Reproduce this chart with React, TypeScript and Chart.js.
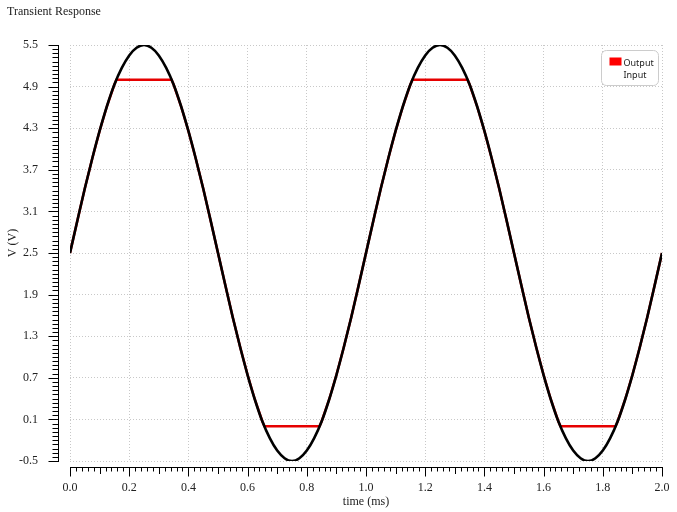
import { useEffect, useRef } from 'react'
import { Chart, registerables } from 'chart.js'
Chart.register(...registerables)

const TITLE = 'Transient Response'
const X_TITLE = 'time (ms)'
const Y_TITLE = 'V (V)'

const xTicks = [0, 0.2, 0.4, 0.6, 0.8, 1.0, 1.2, 1.4, 1.6, 1.8, 2.0]
const yTicks = [-0.5, 0.1, 0.7, 1.3, 1.9, 2.5, 3.1, 3.7, 4.3, 4.9, 5.5]

const inputTime = [
  0, 0.025, 0.05, 0.075, 0.1, 0.125, 0.15, 0.175, 0.2, 0.225,
  0.25, 0.275, 0.3, 0.325, 0.35, 0.375, 0.4, 0.425, 0.45, 0.475,
  0.5, 0.525, 0.55, 0.575, 0.6, 0.625, 0.65, 0.675, 0.7, 0.725,
  0.75, 0.775, 0.8, 0.825, 0.85, 0.875, 0.9, 0.925, 0.95, 0.975,
  1.0, 1.025, 1.05, 1.075, 1.1, 1.125, 1.15, 1.175, 1.2, 1.225,
  1.25, 1.275, 1.3, 1.325, 1.35, 1.375, 1.4, 1.425, 1.45, 1.475,
  1.5, 1.525, 1.55, 1.575, 1.6, 1.625, 1.65, 1.675, 1.7, 1.725,
  1.75, 1.775, 1.8, 1.825, 1.85, 1.875, 1.9, 1.925, 1.95, 1.975, 2.0,
]
const inputV = [
  2.5, 2.97, 3.43, 3.86, 4.26, 4.62, 4.93, 5.17, 5.35, 5.46,
  5.5, 5.46, 5.35, 5.17, 4.93, 4.62, 4.26, 3.86, 3.43, 2.97,
  2.5, 2.03, 1.57, 1.14, 0.74, 0.38, 0.07, -0.17, -0.35, -0.46,
  -0.5, -0.46, -0.35, -0.17, 0.07, 0.38, 0.74, 1.14, 1.57, 2.03,
  2.5, 2.97, 3.43, 3.86, 4.26, 4.62, 4.93, 5.17, 5.35, 5.46,
  5.5, 5.46, 5.35, 5.17, 4.93, 4.62, 4.26, 3.86, 3.43, 2.97,
  2.5, 2.03, 1.57, 1.14, 0.74, 0.38, 0.07, -0.17, -0.35, -0.46,
  -0.5, -0.46, -0.35, -0.17, 0.07, 0.38, 0.74, 1.14, 1.57, 2.03, 2.5,
]

const outputTime = [
  0, 0.025, 0.05, 0.075, 0.1, 0.125, 0.15, 0.157, 0.343, 0.35,
  0.375, 0.4, 0.425, 0.45, 0.475, 0.5, 0.525, 0.55, 0.575, 0.6,
  0.625, 0.65, 0.657, 0.843, 0.85, 0.875, 0.9, 0.925, 0.95, 0.975,
  1.0, 1.025, 1.05, 1.075, 1.1, 1.125, 1.15, 1.157, 1.343, 1.35,
  1.375, 1.4, 1.425, 1.45, 1.475, 1.5, 1.525, 1.55, 1.575, 1.6,
  1.625, 1.65, 1.657, 1.843, 1.85, 1.875, 1.9, 1.925, 1.95, 1.975, 2.0,
]
const outputV = [
  2.5, 2.97, 3.43, 3.86, 4.26, 4.62, 4.93, 5.0, 5.0, 4.93,
  4.62, 4.26, 3.86, 3.43, 2.97, 2.5, 2.03, 1.57, 1.14, 0.74,
  0.38, 0.07, 0.0, 0.0, 0.07, 0.38, 0.74, 1.14, 1.57, 2.03,
  2.5, 2.97, 3.43, 3.86, 4.26, 4.62, 4.93, 5.0, 5.0, 4.93,
  4.62, 4.26, 3.86, 3.43, 2.97, 2.5, 2.03, 1.57, 1.14, 0.74,
  0.38, 0.07, 0.0, 0.0, 0.07, 0.38, 0.74, 1.14, 1.57, 2.03, 2.5,
]

const SERIF = "'Liberation Serif', 'Times New Roman', serif"
const TEXT = '#222'

// detached axes with minor ticks, titles and boxed legend
const decorPlugin = {
  id: 'decor',
  afterDraw(chart: Chart) {
    const { ctx, chartArea: a, scales } = chart
    const xs = scales.x, ys = scales.y
    ctx.save()
    ctx.strokeStyle = '#000'
    ctx.lineWidth = 1

    // y axis
    const ax = Math.round(a.left - 12) + 0.5
    ctx.beginPath()
    ctx.moveTo(ax, ys.getPixelForValue(5.5))
    ctx.lineTo(ax, ys.getPixelForValue(-0.5) + 1)
    for (let i = 0; i <= 100; i++) {
      const v = -0.5 + i * 0.06
      const py = Math.round(ys.getPixelForValue(v)) + 0.5
      const len = i % 10 === 0 ? 10 : 6
      ctx.moveTo(ax - len, py)
      ctx.lineTo(ax, py)
    }
    ctx.stroke()

    // x axis
    const ay = Math.round(a.bottom + 6) + 0.5
    ctx.beginPath()
    ctx.moveTo(xs.getPixelForValue(0), ay)
    ctx.lineTo(xs.getPixelForValue(2) + 1, ay)
    for (let i = 0; i <= 100; i++) {
      const px = Math.round(xs.getPixelForValue(i * 0.02)) + 0.5
      const len = i % 10 === 0 ? 9 : i % 5 === 0 ? 6.5 : 4
      ctx.moveTo(px, ay)
      ctx.lineTo(px, ay + len)
    }
    ctx.stroke()

    // titles
    ctx.fillStyle = TEXT
    ctx.font = `12px ${SERIF}`
    ctx.textAlign = 'left'
    ctx.textBaseline = 'middle'
    ctx.fillText(TITLE, 7, 12)

    ctx.save()
    ctx.translate(13, (a.top + a.bottom) / 2 - 10)
    ctx.rotate(-Math.PI / 2)
    ctx.textAlign = 'center'
    ctx.fillText(Y_TITLE, 0, 0)
    ctx.restore()

    // legend
    const bw = 57, bh = 35
    const bx = a.right - bw - 3.5, by = a.top + 5.5
    ctx.beginPath()
    ctx.roundRect(bx, by, bw, bh, 5)
    ctx.fillStyle = '#fff'
    ctx.fill()
    ctx.strokeStyle = '#ccc'
    ctx.stroke()
    ctx.fillStyle = '#ff0000'
    ctx.fillRect(bx + 8, by + 7, 12, 8)
    ctx.fillStyle = TEXT
    ctx.textAlign = 'left'
    ctx.font = "9px 'Noto Sans', sans-serif"
    ctx.fillText('Output', bx + 22, by + 13)
    ctx.fillText('Input', bx + 22, by + 25)
    ctx.restore()
  },
}

export default function App() {
  const canvasRef = useRef<HTMLCanvasElement>(null)
  const chartRef = useRef<Chart | null>(null)

  useEffect(() => {
    if (!canvasRef.current) return
    chartRef.current?.destroy()
    chartRef.current = new Chart(canvasRef.current, {
      type: 'line',
      data: {
        datasets: [
          {
            label: 'Output',
            data: outputTime.map((t, i) => ({ x: t, y: outputV[i] })),
            borderColor: '#e60000',
            borderWidth: 2.5,
            pointRadius: 0,
            tension: 0,
            order: 1,
          },
          {
            label: 'Input',
            data: inputTime.map((t, i) => ({ x: t, y: inputV[i] })),
            borderColor: '#000',
            borderWidth: 2.6,
            pointRadius: 0,
            cubicInterpolationMode: 'monotone',
            order: 0,
          },
        ],
      },
      options: {
        animation: false,
        responsive: true,
        maintainAspectRatio: false,
        layout: { padding: { left: 0, right: 15, top: 45, bottom: 0 } },
        plugins: { legend: { display: false }, tooltip: { enabled: false } },
        scales: {
          x: {
            type: 'linear',
            min: 0,
            max: 2,
            afterBuildTicks: s => { s.ticks = xTicks.map(v => ({ value: v })) },
            afterFit: s => { s.height = 51; s.paddingLeft = 0; s.paddingRight = 0 },
            ticks: { color: TEXT, font: { family: SERIF, size: 12 }, padding: 20, maxRotation: 0, callback: v => (+v).toFixed(1) },
            grid: { color: '#c8c8c8', drawTicks: false, lineWidth: 1 },
            border: { display: false, dash: [1, 2] },
            title: { display: true, text: X_TITLE, color: TEXT, font: { family: SERIF, size: 12 }, padding: { top: 0, bottom: 3 } },
          },
          y: {
            min: -0.5,
            max: 5.5,
            afterBuildTicks: s => { s.ticks = yTicks.map(v => ({ value: v })) },
            afterFit: s => { s.width = 70; s.paddingTop = 0; s.paddingBottom = 0 },
            ticks: { color: TEXT, font: { family: SERIF, size: 12 }, padding: 32, callback: v => (+v).toFixed(1) },
            grid: { color: '#c8c8c8', drawTicks: false, lineWidth: 1 },
            border: { display: false, dash: [1, 2] },
          },
        },
      },
      plugins: [decorPlugin],
    })
    return () => { chartRef.current?.destroy() }
  }, [])

  return (
    <div style={{ position: 'fixed', left: 0, top: 0, width: 677, height: 512, background: '#fff' }}>
      <canvas ref={canvasRef} style={{ width: '100%', height: '100%' }} />
    </div>
  )
}
